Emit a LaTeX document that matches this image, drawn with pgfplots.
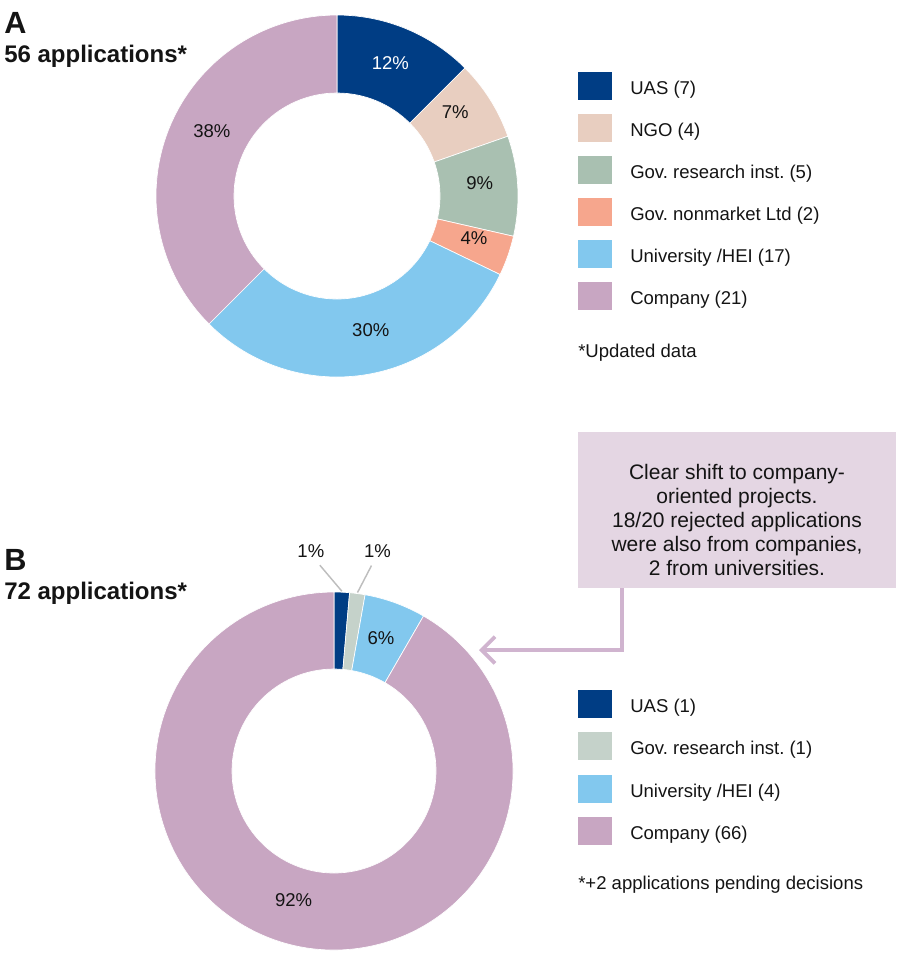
\documentclass[border=0pt]{standalone}
\usepackage{pgfplots}
\pgfplotsset{compat=1.18}
\usepackage{pgfplotstable}
\usepackage{fontspec}
\setmainfont{Liberation Sans}
\usetikzlibrary{arrows.meta}
\frenchspacing

\definecolor{cUAS}{RGB}{0,61,132}
\definecolor{cNGO}{RGB}{232,206,192}
\definecolor{cGRI}{RGB}{169,192,177}
\definecolor{cGRB}{RGB}{197,210,202}
\definecolor{cGNL}{RGB}{246,166,141}
\definecolor{cUNI}{RGB}{130,200,238}
\definecolor{cCOM}{RGB}{200,166,194}
\definecolor{cBox}{RGB}{228,214,227}
\definecolor{cArr}{RGB}{208,180,207}
\definecolor{cLead}{RGB}{190,190,190}
\definecolor{cTxt}{RGB}{20,20,20}

\newcommand\lblfont{\fontsize{13.9}{16}\selectfont}

% name, count, colour, shown percent, label colour, outside label?, leader offsets, label nudge
\pgfplotstableread[col sep=comma]{
name,n,col,p,tc,out,lx,ly,tx,dx,dy
UAS,7,cUAS,12,white,0,0,0,0,-1,2
NGO,4,cNGO,7,cTxt,0,0,0,0,-2,-4
Gov. research inst.,5,cGRI,9,cTxt,0,0,0,0,1,-1
Gov. nonmarket Ltd,2,cGNL,4,cTxt,0,0,0,0,3,-1
University /HEI,17,cUNI,30,cTxt,0,0,0,0,10,-2
Company,21,cCOM,38,cTxt,0,0,0,0,6,-7
}\tblA

\pgfplotstableread[col sep=comma]{
name,n,col,p,tc,out,lx,ly,tx,dx,dy
UAS,1,cUAS,1,cTxt,1,-22,-26,-9,0,0
Gov. research inst.,1,cGRB,1,cTxt,1,14,-27,6,0,0
University /HEI,4,cUNI,6,cTxt,0,0,0,0,-1,3
Company,66,cCOM,92,cTxt,0,0,0,0,-4,-3
}\tblB

% #1 table, #2 cx, #3 cy, #4 total, #5 outer r, #6 inner r (all in px)
\newcommand\donut[6]{%
  \pgfplotstablegetrowsof{#1}%
  \pgfmathtruncatemacro\nrows{\pgfplotsretval-1}%
  \def\acc{0}%
  \pgfmathsetmacro\RoPt{#5*0.75}%
  \pgfmathsetmacro\RiPt{#6*0.75}%
  \pgfmathsetmacro\Rl{(#5+#6)/2}%
  \pgfplotsforeachungrouped \i in {0,...,\nrows}{%
    \pgfplotstablegetelem{\i}{n}\of#1\let\vn\pgfplotsretval
    \pgfplotstablegetelem{\i}{col}\of#1\let\vc\pgfplotsretval
    \pgfplotstablegetelem{\i}{p}\of#1\let\vp\pgfplotsretval
    \pgfplotstablegetelem{\i}{tc}\of#1\let\vt\pgfplotsretval
    \pgfplotstablegetelem{\i}{out}\of#1\let\vo\pgfplotsretval
    \pgfplotstablegetelem{\i}{lx}\of#1\let\vlx\pgfplotsretval
    \pgfplotstablegetelem{\i}{ly}\of#1\let\vly\pgfplotsretval
    \pgfplotstablegetelem{\i}{tx}\of#1\let\vtx\pgfplotsretval
    \pgfplotstablegetelem{\i}{dx}\of#1\let\vdx\pgfplotsretval
    \pgfplotstablegetelem{\i}{dy}\of#1\let\vdy\pgfplotsretval
    \pgfmathsetmacro\aS{90-(\acc/#4)*360}%
    \pgfmathsetmacro\acc{\acc+\vn}%
    \pgfmathsetmacro\aE{90-(\acc/#4)*360}%
    \pgfmathsetmacro\aM{(\aS+\aE)/2}%
    \pgfmathsetmacro\xa{#2+#5*cos(\aS)}%
    \pgfmathsetmacro\ya{#3-#5*sin(\aS)}%
    \pgfmathsetmacro\xb{#2+#6*cos(\aE)}%
    \pgfmathsetmacro\yb{#3-#6*sin(\aE)}%
    \edef\cmd{\noexpand\fill[\vc, draw=white, line width=0.5pt] (axis cs:\xa,\ya) arc[start angle=\aS, end angle=\aE, radius=\RoPt pt] -- (axis cs:\xb,\yb) arc[start angle=\aE, end angle=\aS, radius=\RiPt pt] -- cycle;}%
    \cmd
    \ifnum\vo=1
      \pgfmathsetmacro\xo{#2+(#5+1)*cos(\aM)}%
      \pgfmathsetmacro\yo{#3-(#5+1)*sin(\aM)}%
      \pgfmathsetmacro\xe{\xo+(\vlx)}%
      \pgfmathsetmacro\ye{\yo+(\vly)}%
      \pgfmathsetmacro\xt{\xe+(\vtx)}%
      \pgfmathsetmacro\yt{\ye-14}%
      \edef\cmd{\noexpand\draw[cLead, line width=1.1pt] (axis cs:\xo,\yo) -- (axis cs:\xe,\ye); \noexpand\node[font=\noexpand\lblfont, text=\vt, inner sep=0pt] at (axis cs:\xt,\yt) {\vp\noexpand\%};}%
      \cmd
    \else
      \pgfmathsetmacro\xt{#2+\Rl*cos(\aM)+(\vdx)}%
      \pgfmathsetmacro\yt{#3-\Rl*sin(\aM)-4+(\vdy)}%
      \edef\cmd{\noexpand\node[font=\noexpand\lblfont, text=\vt, inner sep=0pt] at (axis cs:\xt,\yt) {\vp\noexpand\%};}%
      \cmd
    \fi
  }%
}

% #1 table, #2 centre of first swatch, #3 row step
\newcommand\donutlegend[3]{%
  \pgfplotstablegetrowsof{#1}%
  \pgfmathtruncatemacro\nrows{\pgfplotsretval-1}%
  \pgfplotsforeachungrouped \i in {0,...,\nrows}{%
    \pgfplotstablegetelem{\i}{name}\of#1\let\vname\pgfplotsretval
    \pgfplotstablegetelem{\i}{n}\of#1\let\vn\pgfplotsretval
    \pgfplotstablegetelem{\i}{col}\of#1\let\vc\pgfplotsretval
    \pgfmathsetmacro\yc{#2+\i*#3}%
    \pgfmathsetmacro\ys{\yc-14}%
    \pgfmathsetmacro\yf{\yc+14}%
    \pgfmathsetmacro\yb{\yc+8.5}%
    \edef\cmd{\noexpand\fill[\vc] (axis cs:578,\ys) rectangle (axis cs:612,\yf); \noexpand\node[anchor=base west, font=\noexpand\lblfont, text=cTxt, inner sep=0pt] at (axis cs:630,\yb) {\vname\space(\vn)};}%
    \cmd
  }%
}

\begin{document}
\begin{tikzpicture}
\begin{axis}[
  x=0.75pt, y=0.75pt,
  xmin=0, xmax=896, ymin=0, ymax=953,
  y dir=reverse,
  hide axis, clip=false,
  anchor=origin, at={(0,0)},
]
% panel A
\node[anchor=base west, font=\bfseries\fontsize{23}{23}\selectfont, text=cTxt, inner sep=0pt] at (axis cs:4,33) {A};
\node[anchor=base west, font=\bfseries\fontsize{18}{18}\selectfont, text=cTxt, inner sep=0pt] at (axis cs:4,62) {56 applications*};
\donut{\tblA}{337}{196}{56}{181}{103}
\donutlegend{\tblA}{86}{42}
\node[anchor=base west, font=\lblfont, text=cTxt, inner sep=0pt] at (axis cs:578,357) {*Updated data};

% panel B
\node[anchor=base west, font=\bfseries\fontsize{23}{23}\selectfont, text=cTxt, inner sep=0pt] at (axis cs:4,570) {B};
\node[anchor=base west, font=\bfseries\fontsize{18}{18}\selectfont, text=cTxt, inner sep=0pt] at (axis cs:4,599) {72 applications*};
\donut{\tblB}{334}{771}{72}{179}{102}
\donutlegend{\tblB}{704}{42.3}
\node[anchor=base west, font=\lblfont, text=cTxt, inner sep=0pt] at (axis cs:578,889) {*+2 applications pending decisions};

% callout
\fill[cBox] (axis cs:578,432) rectangle (axis cs:896,588);
\node[align=center, font=\fontsize{15.75}{18}\selectfont, text=cTxt, inner sep=0pt] at (axis cs:737,519.5)
  {Clear shift to company-\\oriented projects.\\18/20 rejected applications\\were also from companies,\\2 from universities.};
\draw[cArr, line width=2.8pt, -{Straight Barb[length=10pt, width=20pt, line width=2.8pt]}]
  (axis cs:622,588) -- (axis cs:622,650) -- (axis cs:479,650);
\end{axis}
\pgfresetboundingbox
\path (0,0) rectangle (672pt,-714.75pt);
\end{tikzpicture}
\end{document}
